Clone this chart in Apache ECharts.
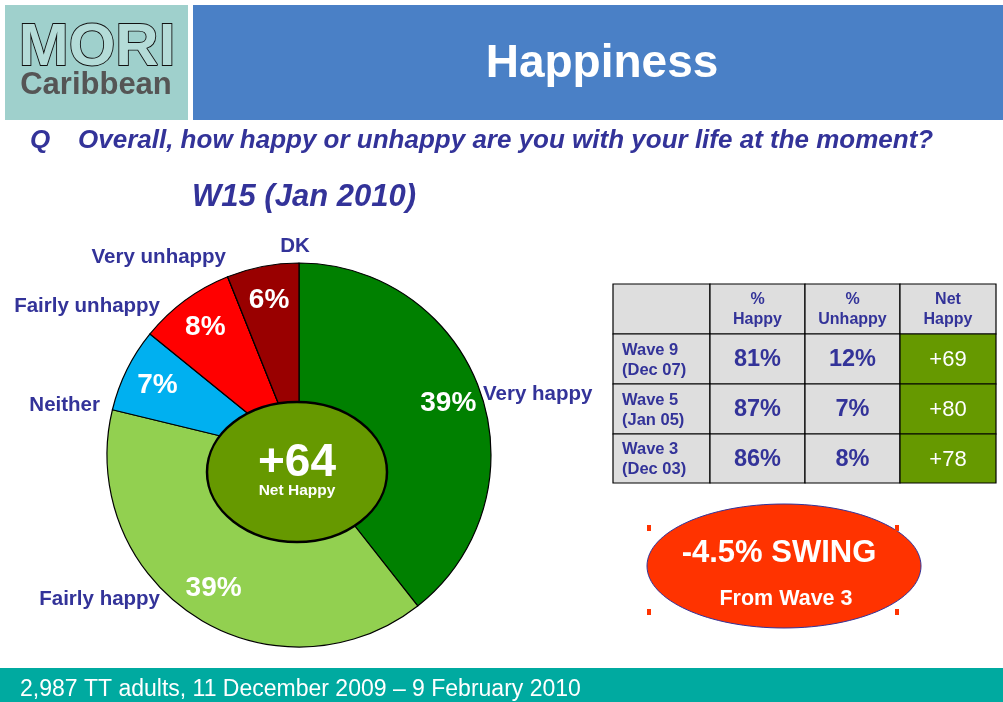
<!DOCTYPE html>
<html>
<head>
<meta charset="utf-8">
<script src="https://cdn.jsdelivr.net/npm/echarts@6/dist/echarts.min.js"></script>
<style>
html,body{margin:0;padding:0;background:#fff;}
#chart{width:1003px;height:702px;}
</style>
</head>
<body>
<div id="chart"></div>
<script>
// ---- Data ----
var categories = ['Very happy', 'Fairly happy', 'Neither', 'Fairly unhappy', 'Very unhappy', 'DK'];
var shares = [39, 39, 7, 8, 0, 6];
var sliceColors = ['#008000', '#92d050', '#00b0f0', '#ff0000', '#cc0000', '#990000'];
var netHappyNow = '+64';

var tableHeaders = ['%\nHappy', '%\nUnhappy', 'Net\nHappy'];
var waves = ['Wave 9\n(Dec 07)', 'Wave 5\n(Jan 05)', 'Wave 3\n(Dec 03)'];
var happyPct = [81, 87, 86];
var unhappyPct = [12, 7, 8];
var netHappy = [69, 80, 78];

var swingText = '-4.5% SWING';
var swingSub = 'From Wave 3';

// ---- Layout helpers ----
var FONT = '"Liberation Sans", Arial, sans-serif';
var NAVY = '#333399';
var labelPos = [
  {x: 483, y: 394, align: 'left'},
  {x: 160, y: 599, align: 'right'},
  {x: 100, y: 405, align: 'right'},
  {x: 160, y: 306, align: 'right'},
  {x: 226, y: 257, align: 'right'},
  {x: 295, y: 246, align: 'center'}
];

var graphics = [];
// header boxes
graphics.push({type: 'rect', shape: {x: 5, y: 5, width: 183, height: 115}, style: {fill: '#9fd0cc'}, z: 1});
graphics.push({type: 'rect', shape: {x: 193, y: 5, width: 810, height: 115}, style: {fill: '#4a80c6'}, z: 1});
graphics.push({type: 'text', x: 97, y: 48, style: {text: 'MORI', font: 'bold 60px ' + FONT, fill: '#b4dcd8', stroke: '#111', lineWidth: 1.8, align: 'center', verticalAlign: 'middle'}, z: 2});
graphics.push({type: 'text', x: 96, y: 85, style: {text: 'Caribbean', font: 'bold 31px ' + FONT, fill: '#555555', align: 'center', verticalAlign: 'middle'}, z: 2});
graphics.push({type: 'text', x: 602, y: 64, style: {text: 'Happiness', font: 'bold 46px ' + FONT, fill: '#ffffff', align: 'center', verticalAlign: 'middle'}, z: 2});
// question
graphics.push({type: 'text', x: 30, y: 141, style: {text: 'Q', font: 'italic bold 26px ' + FONT, fill: NAVY, verticalAlign: 'middle'}, z: 2});
graphics.push({type: 'text', x: 78, y: 141, style: {text: 'Overall, how happy or unhappy are you with your life at the moment?', font: 'italic bold 26px ' + FONT, fill: NAVY, verticalAlign: 'middle'}, z: 2});
graphics.push({type: 'text', x: 304, y: 197, style: {text: 'W15 (Jan 2010)', font: 'italic bold 31px ' + FONT, fill: NAVY, align: 'center', verticalAlign: 'middle'}, z: 2});

// pie category labels
categories.forEach(function (c, i) {
  var p = labelPos[i];
  graphics.push({type: 'text', x: p.x, y: p.y, style: {text: c, font: 'bold 20.5px ' + FONT, fill: NAVY, align: p.align, verticalAlign: 'middle'}, z: 5});
});

// centre ellipse
graphics.push({type: 'ellipse', shape: {cx: 297, cy: 472, rx: 90, ry: 70}, style: {fill: '#669900', stroke: '#000', lineWidth: 2.5}, z: 10});
graphics.push({type: 'text', x: 297, y: 463, style: {text: netHappyNow, font: 'bold 46px ' + FONT, fill: '#fff', align: 'center', verticalAlign: 'middle'}, z: 11});
graphics.push({type: 'text', x: 297, y: 491, style: {text: 'Net Happy', font: 'bold 15.5px ' + FONT, fill: '#fff', align: 'center', verticalAlign: 'middle'}, z: 11});

// table
var colX = [613, 710, 805, 900, 996];
var rowY = [284, 334, 384, 434, 483];
for (var r = 0; r < 4; r++) {
  for (var c = 0; c < 4; c++) {
    var isNet = (c === 3 && r > 0);
    graphics.push({type: 'rect', shape: {x: colX[c], y: rowY[r], width: colX[c + 1] - colX[c], height: rowY[r + 1] - rowY[r]},
      style: {fill: isNet ? '#669900' : '#dedede', stroke: '#000', lineWidth: 1.2}, z: 3});
    var cx = (colX[c] + colX[c + 1]) / 2, cy = (rowY[r] + rowY[r + 1]) / 2 + 1;
    var txt = null, font = 'bold 23.5px ' + FONT, fill = NAVY, align = 'center', tx = cx;
    if (r === 0 && c > 0) { txt = tableHeaders[c - 1]; font = 'bold 16px ' + FONT; }
    else if (r > 0 && c === 0) { txt = waves[r - 1]; font = 'bold 16.5px ' + FONT; align = 'left'; tx = colX[0] + 9; }
    else if (r > 0 && c === 1) { txt = happyPct[r - 1] + '%'; }
    else if (r > 0 && c === 2) { txt = unhappyPct[r - 1] + '%'; }
    else if (r > 0 && c === 3) { txt = '+' + netHappy[r - 1]; font = '22px ' + FONT; fill = '#fff'; }
    if (txt !== null) {
      graphics.push({type: 'text', x: tx, y: cy, style: {text: txt, font: font, fill: fill, align: align, verticalAlign: 'middle', lineHeight: 20}, z: 4});
    }
  }
}

// swing ellipse
graphics.push({type: 'ellipse', shape: {cx: 784, cy: 566, rx: 137, ry: 62}, style: {fill: '#ff3300', stroke: '#33339a', lineWidth: 1}, z: 3});
[[647, 525], [895, 525], [647, 609], [895, 609]].forEach(function (p) {
  graphics.push({type: 'rect', shape: {x: p[0], y: p[1], width: 4, height: 6}, style: {fill: '#ff3300'}, z: 3});
});
graphics.push({type: 'text', x: 779, y: 553, style: {text: swingText, font: 'bold 31px ' + FONT, fill: '#fff', align: 'center', verticalAlign: 'middle'}, z: 4});
graphics.push({type: 'text', x: 786, y: 599, style: {text: swingSub, font: 'bold 21.5px ' + FONT, fill: '#fff', align: 'center', verticalAlign: 'middle'}, z: 4});

// footer
graphics.push({type: 'rect', shape: {x: 0, y: 668, width: 1003, height: 34}, style: {fill: '#00aaa0'}, z: 1});
graphics.push({type: 'text', x: 20, y: 690, style: {text: '2,987 TT adults, 11 December 2009 \u2013 9 February 2010', font: '23px ' + FONT, fill: '#fff', verticalAlign: 'middle'}, z: 2});

var pieData = categories.map(function (c, i) {
  return {name: c, value: shares[i], itemStyle: {color: sliceColors[i]}};
});

var chart = echarts.init(document.getElementById('chart'), null, {renderer: 'canvas'});
chart.setOption({
  animation: false,
  backgroundColor: '#ffffff',
  series: [
    {
      type: 'pie', center: [299, 455], radius: [0, 192], startAngle: 90, clockwise: true,
      silent: true, z: 2,
      itemStyle: {borderColor: '#000', borderWidth: 1.2},
      label: {show: false}, labelLine: {show: false},
      data: pieData
    },
    {
      type: 'pie', center: [299, 455], radius: [116, 194], startAngle: 90, clockwise: true,
      silent: true, z: 3,
      itemStyle: {color: 'rgba(0,0,0,0)', borderWidth: 0},
      label: {show: true, position: 'inside', formatter: function (p) { return p.value > 0 ? p.value + '%' : ''; },
        color: '#fff', fontFamily: FONT, fontWeight: 'bold', fontSize: 28},
      labelLine: {show: false},
      data: categories.map(function (c, i) { return {name: c, value: shares[i]}; })
    }
  ],
  graphic: graphics
});
</script>
</body>
</html>
